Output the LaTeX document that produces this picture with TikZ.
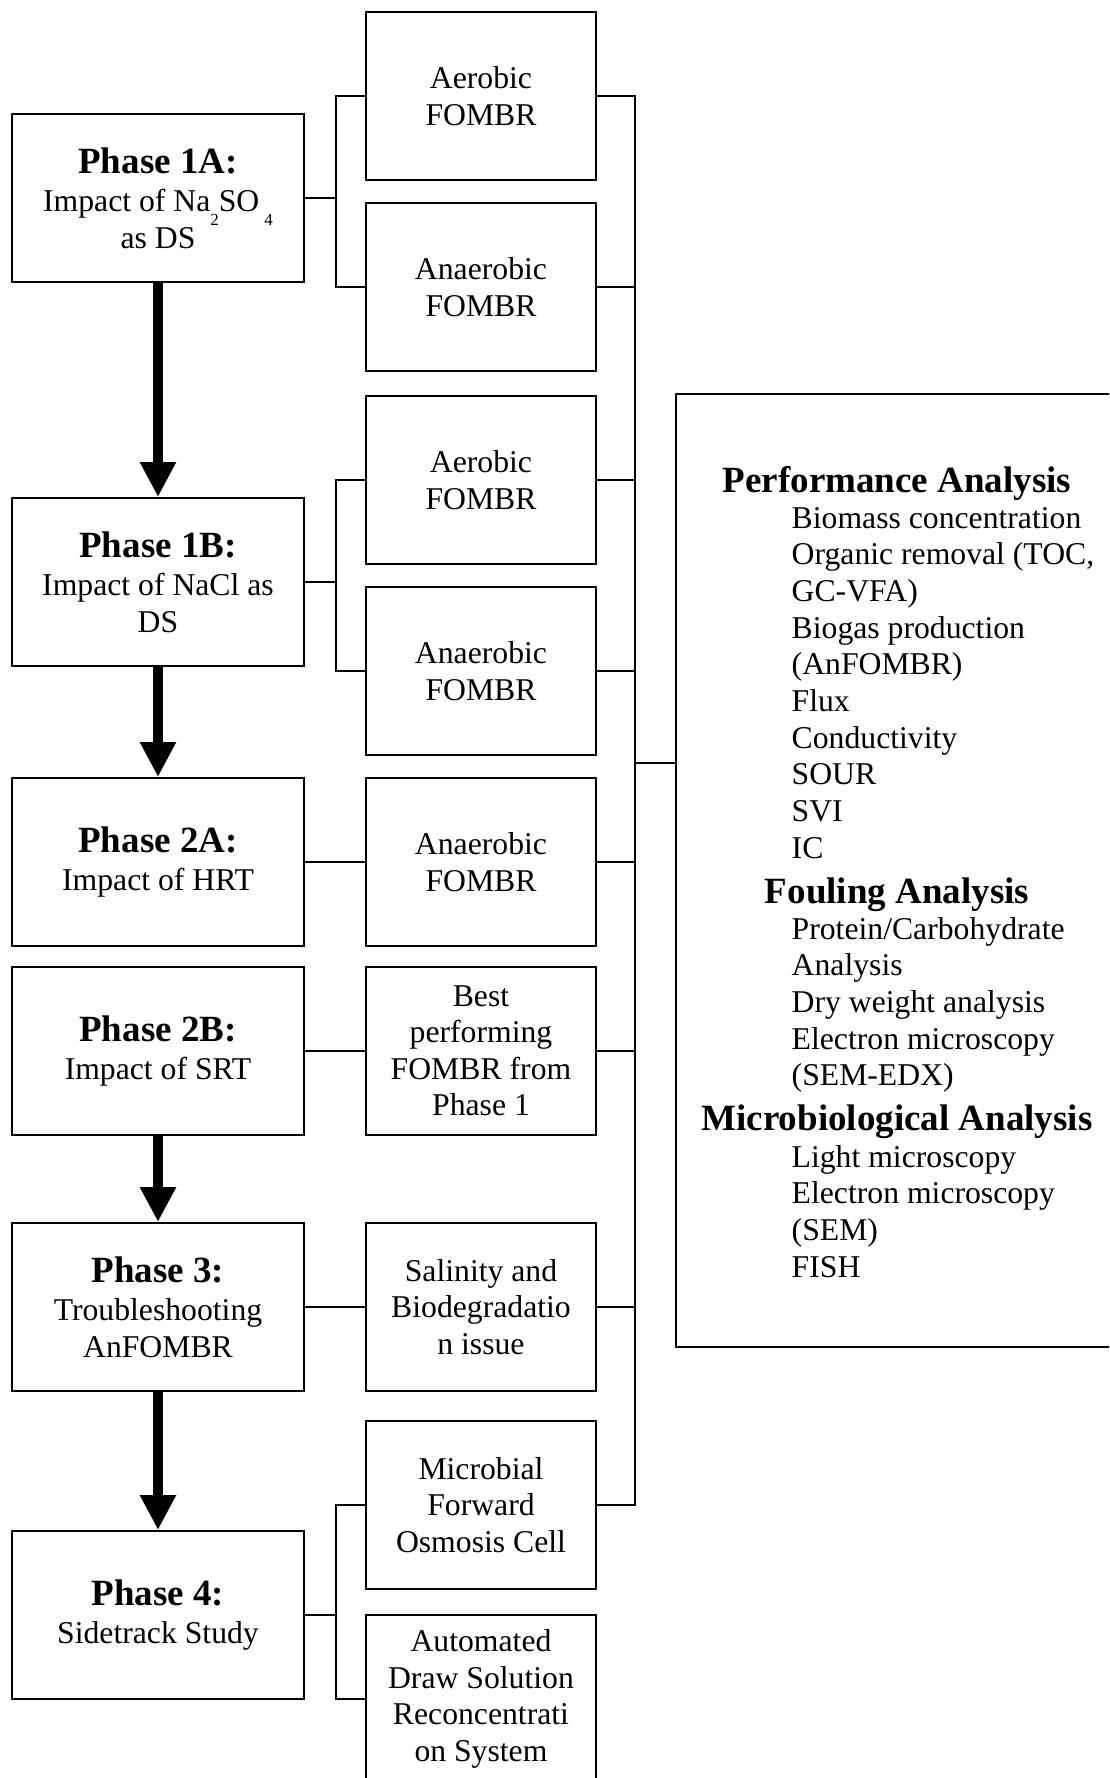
\documentclass[tikz,border=0pt]{standalone}
\usepackage{fontspec}
\setmainfont{Liberation Serif}
\usetikzlibrary{arrows.meta}
\newcommand\bodyfont{\fontsize{31.7}{36.5}\selectfont}
\newcommand\headfont{\fontsize{37}{36.5}\selectfont\bfseries}
\newcommand\subdigit[1]{\raisebox{-14pt}{\fontsize{17}{17}\selectfont #1}}

\begin{document}
\begin{tikzpicture}[x=1pt,y=-1pt,
  phasebox/.style={draw, line width=2pt, minimum width=292pt, minimum height=168pt,
                   inner sep=0pt, align=center, font=\bodyfont, anchor=north west},
  subbox/.style={phasebox, minimum width=230pt},
  link/.style={line width=1.2pt},
  flow/.style={line width=10pt, -{Triangle[width=34pt,length=35pt]}},
  item/.style={anchor=base west, font=\bodyfont, inner sep=0pt},
  head/.style={anchor=base, font=\headfont, inner sep=0pt}]

\clip (0,0) rectangle (1109,1778);

% phases
\node[phasebox] (p1a) at (11,113) {{\headfont Phase 1A:}\\[2pt]Impact of Na\subdigit{2}SO\hspace{5pt}\subdigit{4}\\as DS};
\node[phasebox] (p1b) at (11,497) {{\headfont Phase 1B:}\\[2pt]Impact of NaCl as\\DS};
\node[phasebox] (p2a) at (11,777) {{\headfont Phase 2A:}\\[2pt]Impact of HRT};
\node[phasebox] (p2b) at (11,966) {{\headfont Phase 2B:}\\[2pt]Impact of SRT};
\node[phasebox] (p3)  at (11,1222) {{\headfont Phase 3:}\\[2pt]Troubleshooting\\AnFOMBR};
\node[phasebox] (p4)  at (11,1530) {{\headfont Phase 4:}\\[2pt]Sidetrack Study};

% reactors and studies
\node[subbox] (a1)   at (365,11)   {Aerobic\\FOMBR};
\node[subbox] (n1)   at (365,202)  {Anaerobic\\FOMBR};
\node[subbox] (a2)   at (365,395)  {Aerobic\\FOMBR};
\node[subbox] (n2)   at (365,586)  {Anaerobic\\FOMBR};
\node[subbox] (n3)   at (365,777)  {Anaerobic\\FOMBR};
\node[subbox] (best) at (365,966)  {Best\\performing\\FOMBR from\\Phase 1};
\node[subbox] (sal)  at (365,1222) {Salinity and\\Biodegradatio\\n issue};
\node[subbox] (mfo)  at (365,1420) {Microbial\\Forward\\Osmosis Cell};
\node[subbox] (ads)  at (365,1614) {Automated\\Draw Solution\\Reconcentrati\\on System};

% analysis panel
\node[draw, line width=2pt, minimum width=445pt, minimum height=953pt, inner sep=0pt,
      anchor=north west] (panel) at (675,393) {};

\node[head] (hperf) at (897,492) {Performance Analysis};
\node[item] (i1)  at (791.5,528)   {Biomass concentration};
\node[item] (i2)  at (791.5,564.7) {Organic removal (TOC,};
\node[item] (i3)  at (791.5,601.4) {GC-VFA)};
\node[item] (i4)  at (791.5,638.1) {Biogas production};
\node[item] (i5)  at (791.5,674.8) {(AnFOMBR)};
\node[item] (i6)  at (791.5,711.5) {Flux};
\node[item] (i7)  at (791.5,748.2) {Conductivity};
\node[item] (i8)  at (791.5,784.9) {SOUR};
\node[item] (i9)  at (791.5,821.6) {SVI};
\node[item] (i10) at (791.5,858.3) {IC};
\node[head] (hfoul) at (897,903) {Fouling Analysis};
\node[item] (f1) at (791.5,939)    {Protein/Carbohydrate};
\node[item] (f2) at (791.5,975.7)  {Analysis};
\node[item] (f3) at (791.5,1012.4) {Dry weight analysis};
\node[item] (f4) at (791.5,1049.1) {Electron microscopy};
\node[item] (f5) at (791.5,1085.8) {(SEM-EDX)};
\node[head] (hmicro) at (897,1130) {Microbiological Analysis};
\node[item] (m1) at (791.5,1167)   {Light microscopy};
\node[item] (m2) at (791.5,1203.7) {Electron microscopy};
\node[item] (m3) at (791.5,1240.4) {(SEM)};
\node[item] (m4) at (791.5,1277.1) {FISH};

% phase-to-reactor links
\coordinate (j1) at ([xshift=31pt]p1a.east);
\draw[link] (p1a.east) -- (j1);
\draw[link] (a1.west) -| (j1) |- (n1.west);
\coordinate (j2) at ([xshift=31pt]p1b.east);
\draw[link] (p1b.east) -- (j2);
\draw[link] (a2.west) -| (j2) |- (n2.west);
\draw[link] (p2a.east) -- (n3.west);
\draw[link] (p2b.east) -- (best.west);
\draw[link] (p3.east) -- (sal.west);
\coordinate (j4) at ([xshift=31pt]p4.east);
\draw[link] (p4.east) -- (j4);
\draw[link] (mfo.west) -| (j4) |- (ads.west);

% collecting bus to the analysis panel
\coordinate (busx) at (635,0);
\draw[link] (a1.east) -- (a1.east -| busx) -- (mfo.east -| busx) -- (mfo.east);
\foreach \b in {n1,a2,n2,n3,best,sal}
  \draw[link] (\b.east) -- (\b.east -| busx);
\coordinate (tap) at (635,763);
\draw[link] (tap) -- (tap -| panel.west);

% sequence of phases
\draw[flow] (p1a.south) -- (p1b.north);
\draw[flow] (p1b.south) -- (p2a.north);
\draw[flow] (p2b.south) -- (p3.north);
\draw[flow] (p3.south) -- (p4.north);
\end{tikzpicture}
\end{document}
